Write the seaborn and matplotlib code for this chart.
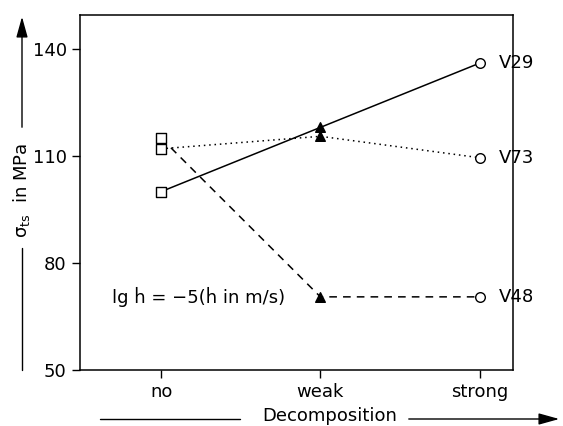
import numpy as np
import pandas as pd
import matplotlib
matplotlib.use("Agg")
from matplotlib import pyplot as plt
import seaborn as sns

# data
categories = ["no", "weak", "strong"]
v29 = [100, 118, 136]
v73 = [112, 115.5, 109.5]
v48 = [115, 70.5, 70.5]
series_names = ["V29", "V73", "V48"]
series_values = [v29, v73, v48]
y_ticks = [50, 80, 110, 140]

sns.set_theme(style="white")
plt.rcParams["font.family"] = ["DejaVu Sans"]
plt.rcParams["text.color"] = "black"
plt.rcParams["mathtext.default"] = "regular"

rows = []
for name, vals in zip(series_names, series_values):
    for i, (c, v) in enumerate(zip(categories, vals)):
        rows.append({"series": name, "decomp": c, "x": i, "stress": v})
df = pd.DataFrame(rows)

fig = plt.figure(figsize=(5.63, 4.26), dpi=100)
ax = fig.add_axes([80 / 563, 1 - 370 / 426, 433 / 563, 355 / 426])

dashes = {"V29": "", "V73": (1, 2.5), "V48": (5, 4)}
sns.lineplot(data=df, x="x", y="stress", style="series", dashes=dashes,
             color="black", linewidth=1.1, legend=False, ax=ax)
markers = {"no": "s", "weak": "^", "strong": "o"}
for c in categories:
    sub = df[df["decomp"] == c]
    filled = c == "weak"
    sns.scatterplot(data=sub, x="x", y="stress", marker=markers[c], s=48,
                    facecolor="black" if filled else "white",
                    edgecolor="black", linewidth=1.0, zorder=3,
                    legend=False, ax=ax)

for name, vals in zip(series_names, series_values):
    ax.text(2.12, vals[-1], name, fontsize=13, va="center", ha="left")

ax.text(-0.31, 70.5, "lg \u1e23 = \u22125(\u1e23 in m/s)", fontsize=13,
        va="center", ha="left")

ax.set_xlim(-0.51, 2.21)
ax.set_ylim(50, 149.5)
ax.set_xticks(range(len(categories)))
ax.set_xticklabels(categories)
ax.set_yticks(y_ticks)
ax.tick_params(axis="both", direction="out", length=6, width=1, colors="black",
               labelsize=13, left=True, bottom=True)
ax.set_xlabel("")
ax.set_ylabel("")
for sp in ax.spines.values():
    sp.set_color("black")
    sp.set_linewidth(1.1)

# axis titles with arrow lines
fig.text(22 / 563, 1 - 190 / 426, r"$\sigma_{ts}$  in MPa", rotation=90,
         ha="center", va="center", fontsize=13)
fig.add_artist(plt.Line2D([22 / 563, 22 / 563], [1 - 370 / 426, 1 - 248 / 426],
                          color="black", lw=1))
ax.annotate("", xy=(22 / 563, 1 - 14 / 426), xytext=(22 / 563, 1 - 130 / 426),
            xycoords="figure fraction", textcoords="figure fraction",
            arrowprops=dict(arrowstyle="-|>,head_length=0.9,head_width=0.25",
                            color="black", lw=1, mutation_scale=14))

fig.text(330 / 563, 1 - 416 / 426, "Decomposition", ha="center", va="center",
         fontsize=13)
fig.add_artist(plt.Line2D([100 / 563, 240 / 563], [1 - 419 / 426, 1 - 419 / 426],
                          color="black", lw=1))
ax.annotate("", xy=(562 / 563, 1 - 419 / 426), xytext=(406 / 563, 1 - 419 / 426),
            xycoords="figure fraction", textcoords="figure fraction",
            arrowprops=dict(arrowstyle="-|>,head_length=0.9,head_width=0.25",
                            color="black", lw=1, mutation_scale=14))

fig.savefig("out.png", dpi=100)
